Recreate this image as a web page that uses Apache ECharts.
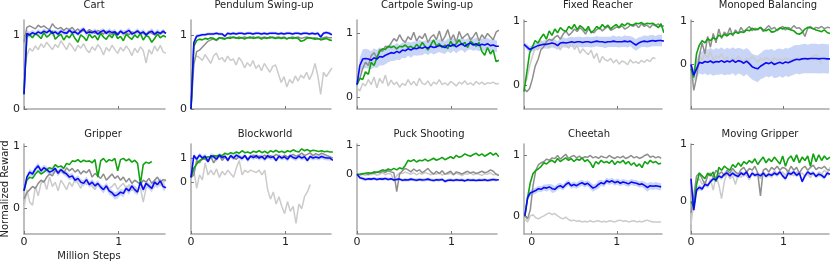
<!DOCTYPE html>
<html><head><meta charset="utf-8">
<script src="https://cdn.jsdelivr.net/npm/echarts@6/dist/echarts.min.js"></script>
<style>html,body{margin:0;padding:0;background:#fff}#c{width:831px;height:262px}</style>
</head><body><div id="c"></div><script>
const X = [0,0.03,0.06,0.09,0.12,0.15,0.18,0.21,0.24,0.27,0.3,0.33,0.36,0.39,0.42,0.45,0.48,0.51,0.54,0.57,0.6,0.63,0.66,0.69,0.72,0.75,0.78,0.81,0.84,0.87,0.9,0.93,0.96,0.99,1.02,1.05,1.08,1.11,1.14,1.17,1.2,1.23,1.26,1.29,1.32,1.35,1.38,1.41,1.44,1.47,1.5];
const X_CHEETAH = [-0.08,-0.048,-0.016,0.016,0.048,0.08,0.112,0.144,0.176,0.208,0.24,0.272,0.304,0.336,0.368,0.4,0.432,0.464,0.496,0.528,0.56,0.592,0.624,0.656,0.688,0.72,0.752,0.784,0.816,0.848,0.88,0.912,0.944,0.976,1.008,1.04,1.072,1.104,1.136,1.168,1.2,1.232,1.264,1.296,1.328,1.36,1.392,1.424,1.456,1.488,1.52];

const TITLES = ['Cart','Pendulum Swing-up','Cartpole Swing-up','Fixed Reacher','Monoped Balancing','Gripper','Blockworld','Puck Shooting','Cheetah','Moving Gripper'];
const Y_TICKS = [0, 1];
const X_TICKS = [0, 1];
const Y_MIN = [0,0,-0.18,-0.37,-1.03,-0.41,-2.14,-2.06,-0.3,-0.57];
const Y_MAX = [1.2,1.21,1.21,1.02,1.03,1.03,1.58,1.04,1.19,1.01];
const X_MIN = [0,0,0,0,0,0,0,0,-0.09,0];
const X_MAX = [1.49,1.49,1.48,1.48,1.49,1.49,1.48,1.48,1.53,1.49];

// ---- Cart
const cart_blue = [0.2,1.02,1.0,1.03,1.01,1.04,1.02,1.05,1.03,1.06,1.02,1.04,1.01,1.05,1.03,1.02,1.06,1.03,1.04,1.01,1.05,1.08,1.02,1.04,1.03,1.05,1.01,1.04,1.06,1.02,1.05,1.03,1.04,1.0,1.05,1.02,1.04,1.06,1.01,1.03,1.05,1.02,1.04,1.0,1.03,1.05,1.01,1.04,1.02,1.05,1.02];
const cart_green = [0.2,0.98,1.0,0.96,1.02,0.99,0.95,1.03,0.97,1.0,1.05,0.94,0.98,1.01,0.93,0.99,0.96,1.02,0.95,0.9,1.0,0.97,0.92,1.01,0.96,0.99,0.93,1.02,0.97,0.94,1.0,0.96,1.03,0.95,0.98,0.92,1.01,0.97,0.94,1.0,0.96,1.02,0.93,0.99,0.97,0.9,0.95,1.01,0.96,0.99,0.97];
const cart_dark = [0.9,1.1,1.12,1.1,1.08,1.13,1.1,1.12,1.09,1.07,1.15,1.1,1.08,1.1,1.06,1.09,1.07,1.1,1.05,1.08,1.04,1.06,1.03,1.07,1.05,1.02,1.06,1.04,1.01,1.05,1.03,1.0,1.04,1.02,1.05,1.01,1.03,1.0,1.04,1.02,1.06,1.01,1.03,1.0,1.05,1.02,1.0,1.03,1.01,1.04,1.02];
const cart_light = [0.5,0.72,0.82,0.78,0.85,0.8,0.88,0.83,0.9,0.85,0.8,0.87,0.83,0.92,0.86,0.8,0.89,0.84,0.78,0.86,0.82,0.88,0.8,0.76,0.84,0.79,0.87,0.82,0.73,0.83,0.78,0.86,0.8,0.75,0.83,0.78,0.85,0.8,0.72,0.82,0.76,0.84,0.79,0.62,0.8,0.74,0.85,0.78,0.86,0.77,0.75];
const cart_band = [0.1,0.05,0.04,0.04,0.03,0.04,0.03,0.04,0.03,0.03,0.04,0.03,0.04,0.03,0.03,0.04,0.03,0.04,0.03,0.03,0.04,0.03,0.04,0.03,0.03,0.04,0.03,0.04,0.03,0.03,0.04,0.03,0.04,0.03,0.03,0.04,0.03,0.04,0.03,0.03,0.04,0.03,0.04,0.03,0.03,0.04,0.03,0.04,0.03,0.03,0.04];
// ---- Pendulum Swing-up
const pend_blue = [0.0,0.9,0.99,1.0,1.01,1.01,1.02,1.02,1.02,1.03,1.02,1.02,0.99,1.03,1.02,1.03,1.02,1.03,1.03,1.02,1.03,1.03,1.02,1.03,1.03,1.02,1.03,1.02,1.03,1.03,1.03,1.02,1.03,1.02,1.03,1.03,1.02,1.03,1.03,1.02,1.03,1.03,1.02,1.03,1.02,1.03,0.98,1.03,1.04,1.03,1.01];
const pend_green = [0.0,0.85,0.93,0.95,0.94,0.96,0.95,0.97,0.96,0.94,0.97,0.96,0.95,0.97,0.96,0.98,0.97,0.96,0.97,0.95,0.97,0.98,0.96,0.97,0.97,0.95,0.97,0.96,0.98,0.97,0.96,0.97,0.96,0.97,0.95,0.97,0.96,0.97,0.96,0.92,0.93,0.96,0.97,0.96,0.95,0.96,0.94,0.95,0.96,0.94,0.93];
const pend_dark = [0.0,0.6,0.78,0.8,0.84,0.88,0.92,0.94,0.95,0.93,0.96,0.97,0.96,0.97,0.98,0.97,0.96,0.98,0.97,0.98,0.97,0.96,0.98,0.97,0.98,0.97,0.98,0.97,0.96,0.98,0.97,0.98,0.97,0.98,0.96,0.97,0.98,0.97,0.98,0.96,0.97,0.98,0.97,0.96,0.97,0.95,0.96,0.97,0.98,0.97,0.97];
const pend_light = [0.0,0.68,0.72,0.7,0.66,0.74,0.68,0.62,0.72,0.76,0.67,0.7,0.64,0.72,0.66,0.68,0.6,0.7,0.65,0.56,0.63,0.58,0.66,0.55,0.6,0.52,0.62,0.56,0.5,0.58,0.6,0.48,0.36,0.44,0.3,0.4,0.35,0.45,0.38,0.46,0.42,0.5,0.4,0.48,0.62,0.45,0.2,0.5,0.44,0.5,0.56];
const pend_band = [0.05,0.04,0.03,0.02,0.02,0.02,0.02,0.02,0.02,0.02,0.02,0.02,0.02,0.02,0.02,0.02,0.02,0.02,0.02,0.02,0.02,0.02,0.02,0.02,0.02,0.02,0.02,0.02,0.02,0.02,0.02,0.02,0.02,0.02,0.02,0.02,0.02,0.02,0.02,0.02,0.02,0.02,0.02,0.02,0.02,0.02,0.03,0.02,0.02,0.02,0.02];
// ---- Cartpole Swing-up
const cpole_blue = [0.2,0.5,0.6,0.61,0.6,0.58,0.62,0.6,0.64,0.63,0.66,0.68,0.7,0.69,0.72,0.7,0.74,0.73,0.76,0.74,0.77,0.76,0.78,0.77,0.79,0.77,0.8,0.78,0.79,0.81,0.8,0.78,0.82,0.8,0.83,0.79,0.82,0.84,0.8,0.83,0.85,0.82,0.84,0.81,0.83,0.82,0.84,0.81,0.82,0.8,0.8];
const cpole_green = [0.2,0.3,0.28,0.4,0.36,0.55,0.5,0.62,0.72,0.76,0.75,0.8,0.78,0.8,0.76,0.8,0.79,0.82,0.78,0.8,0.76,0.83,0.78,0.86,0.8,0.74,0.82,0.9,0.8,0.84,0.78,0.82,0.76,0.88,0.8,0.84,0.9,0.82,0.86,0.78,0.88,0.84,0.8,0.86,0.72,0.66,0.78,0.68,0.74,0.56,0.58];
const cpole_dark = [0.2,0.3,0.45,0.55,0.5,0.65,0.7,0.62,0.75,0.72,0.8,0.78,0.85,0.92,0.88,0.98,0.9,0.86,0.95,0.9,1.02,0.88,0.96,0.92,1.0,0.86,0.94,0.98,0.9,1.04,0.88,0.95,1.06,0.9,0.98,0.86,1.03,0.92,0.96,1.0,0.9,0.95,1.02,0.88,0.98,0.92,1.0,0.95,0.9,1.02,1.05];
const cpole_light = [0.15,0.1,0.22,0.18,0.28,0.2,0.32,0.15,0.3,0.22,0.35,0.18,0.27,0.2,0.24,0.16,0.22,0.19,0.28,0.2,0.25,0.18,0.3,0.22,0.2,0.26,0.18,0.24,0.21,0.28,0.2,0.23,0.19,0.25,0.22,0.18,0.24,0.21,0.26,0.2,0.23,0.19,0.25,0.21,0.24,0.2,0.23,0.22,0.24,0.21,0.22];
const cpole_band = [0.05,0.12,0.15,0.15,0.15,0.14,0.15,0.14,0.14,0.13,0.14,0.13,0.13,0.12,0.13,0.12,0.12,0.12,0.11,0.12,0.11,0.11,0.12,0.11,0.1,0.11,0.1,0.11,0.1,0.1,0.11,0.1,0.1,0.11,0.1,0.1,0.09,0.1,0.1,0.09,0.1,0.09,0.1,0.09,0.09,0.1,0.09,0.09,0.1,0.09,0.09];
// ---- Fixed Reacher
const reach_blue = [0.64,0.6,0.56,0.58,0.6,0.62,0.63,0.64,0.64,0.65,0.66,0.65,0.62,0.66,0.67,0.66,0.67,0.68,0.67,0.68,0.68,0.67,0.68,0.68,0.67,0.68,0.69,0.68,0.68,0.67,0.68,0.68,0.69,0.68,0.68,0.68,0.69,0.68,0.69,0.66,0.63,0.66,0.68,0.69,0.68,0.69,0.7,0.69,0.7,0.7,0.69];
const reach_green = [-0.1,0.2,0.5,0.6,0.7,0.66,0.74,0.8,0.72,0.85,0.78,0.88,0.82,0.9,0.86,0.84,0.92,0.88,0.95,0.87,0.93,0.9,0.85,0.92,0.82,0.86,0.92,0.88,0.95,0.9,0.94,0.88,0.92,0.95,0.9,0.96,0.93,0.97,0.95,0.94,0.97,0.96,0.98,0.95,0.97,0.96,0.97,0.94,0.9,0.96,0.82];
const reach_dark = [-0.05,-0.1,-0.05,0.1,0.3,0.4,0.55,0.6,0.68,0.72,0.7,0.75,0.78,0.72,0.8,0.85,0.78,0.82,0.88,0.84,0.9,0.86,0.8,0.88,0.84,0.82,0.87,0.9,0.85,0.89,0.92,0.86,0.88,0.91,0.9,0.93,0.88,0.9,0.94,0.92,0.95,0.9,0.96,0.92,0.94,0.9,0.95,0.93,0.96,0.92,0.93];
const reach_light = [0.0,0.1,0.3,0.45,0.6,0.55,0.7,0.6,0.65,0.58,0.68,0.6,0.64,0.55,0.66,0.62,0.58,0.68,0.56,0.62,0.5,0.57,0.52,0.48,0.55,0.42,0.5,0.35,0.45,0.4,0.38,0.42,0.35,0.4,0.33,0.38,0.36,0.32,0.4,0.35,0.37,0.34,0.39,0.36,0.4,0.37,0.43,0.42];
const reach_band = [0.03,0.05,0.05,0.05,0.06,0.06,0.06,0.06,0.07,0.07,0.07,0.07,0.07,0.07,0.08,0.07,0.08,0.08,0.08,0.08,0.08,0.08,0.08,0.08,0.08,0.08,0.08,0.08,0.08,0.09,0.08,0.08,0.09,0.08,0.09,0.08,0.09,0.09,0.08,0.09,0.09,0.09,0.08,0.09,0.09,0.09,0.09,0.08,0.09,0.09,0.09];
// ---- Monoped Balancing
const mono_blue = [0.0,-0.25,-0.1,0.05,0.03,0.07,0.05,0.08,0.04,0.07,0.06,0.09,0.05,0.08,0.06,0.1,0.05,0.09,0.07,0.03,0.08,0.02,-0.05,-0.08,-0.1,-0.04,0.0,0.04,0.02,0.05,0.0,0.03,0.05,0.02,0.06,0.04,0.07,0.1,0.12,0.11,0.13,0.14,0.13,0.14,0.14,0.14,0.13,0.14,0.14,0.13,0.13];
const mono_green = [-0.1,-0.3,0.25,0.45,0.55,0.5,0.6,0.55,0.62,0.58,0.68,0.64,0.7,0.66,0.72,0.7,0.75,0.72,0.76,0.74,0.8,0.78,0.84,0.8,0.82,0.86,0.8,0.78,0.82,0.75,0.76,0.8,0.85,0.82,0.86,0.82,0.8,0.78,0.72,0.7,0.74,0.82,0.86,0.85,0.83,0.8,0.78,0.76,0.8,0.74,0.72];
const mono_dark = [0.0,-0.6,-0.3,0.2,0.5,0.25,0.65,0.4,0.72,0.5,0.82,0.6,0.75,0.68,0.85,0.66,0.8,0.72,0.86,0.76,0.82,0.88,0.78,0.84,0.8,0.86,0.76,0.84,0.9,0.82,0.86,0.78,0.84,0.88,0.8,0.86,0.82,0.9,0.84,0.85,0.78,0.65,0.84,0.88,0.82,0.86,0.84,0.88,0.83,0.86,0.85];
const mono_light = [0.0,-0.3,0.0,0.2,0.1,0.25,0.15,0.3,0.1,0.2,0.15,0.25,0.1,0.18,0.05,0.15,0.1,0.2,0.12,0.08,0.15,0.1,0.18,0.12,0.06,0.14,0.1,0.16,0.12,0.08,0.15,0.1,0.13,0.09,0.15,0.12,0.1,0.14,0.11,0.16,0.12,0.14,0.1,0.15,0.2,0.22,0.18,0.0];
const mono_band = [0.05,0.15,0.2,0.25,0.27,0.28,0.3,0.3,0.3,0.31,0.3,0.31,0.3,0.31,0.3,0.3,0.31,0.3,0.3,0.31,0.3,0.31,0.3,0.3,0.31,0.3,0.32,0.31,0.32,0.31,0.32,0.33,0.32,0.33,0.32,0.33,0.33,0.34,0.33,0.34,0.34,0.34,0.33,0.34,0.34,0.34,0.34,0.34,0.34,0.34,0.34];
// ---- Gripper
const grip_blue = [0.28,0.5,0.58,0.55,0.63,0.68,0.6,0.65,0.62,0.58,0.6,0.64,0.56,0.62,0.58,0.55,0.5,0.52,0.45,0.48,0.42,0.4,0.46,0.38,0.42,0.36,0.4,0.34,0.3,0.36,0.28,0.25,0.2,0.22,0.26,0.24,0.32,0.28,0.36,0.3,0.26,0.42,0.3,0.4,0.36,0.32,0.42,0.38,0.44,0.35,0.33];
const grip_green = [0.28,0.45,0.5,0.48,0.55,0.6,0.55,0.58,0.62,0.65,0.63,0.7,0.66,0.68,0.64,0.72,0.7,0.76,0.75,0.78,0.74,0.77,0.75,0.76,0.73,0.78,0.5,0.76,0.8,0.74,0.78,0.76,0.8,0.6,0.78,0.8,0.76,0.79,0.74,0.77,0.72,0.39,0.7,0.74,0.72,0.75];
const grip_dark = [0.15,0.25,0.3,0.35,0.32,0.4,0.45,0.42,0.5,0.55,0.52,0.6,0.58,0.62,0.56,0.65,0.6,0.64,0.58,0.62,0.55,0.6,0.57,0.62,0.5,0.56,0.52,0.48,0.55,0.45,0.5,0.55,0.48,0.52,0.45,0.5,0.42,0.48,0.4,0.45,0.42,0.38,0.45,0.42,0.48,0.4,0.45,0.5,0.42,0.46,0.45];
const grip_light = [0.0,0.3,0.1,0.05,0.35,0.2,0.4,0.45,0.3,0.5,0.35,0.42,0.28,0.45,0.38,0.3,0.42,0.35,0.48,0.4,0.32,0.45,0.38,0.42,0.35,0.3,0.4,0.36,0.3,0.38,0.32,0.35,0.4,0.3,0.36,0.4,0.32,0.38,0.28,0.35,0.3,0.33,0.1,0.32,0.38,0.3,0.35,0.4,0.36,0.42,0.45];
const grip_band = [0.02,0.04,0.05,0.05,0.05,0.05,0.05,0.05,0.05,0.05,0.05,0.05,0.05,0.05,0.05,0.05,0.05,0.05,0.05,0.05,0.05,0.05,0.05,0.05,0.05,0.05,0.05,0.05,0.06,0.05,0.06,0.05,0.06,0.06,0.05,0.06,0.05,0.06,0.05,0.06,0.05,0.06,0.05,0.06,0.05,0.06,0.05,0.06,0.05,0.06,0.06];
// ---- Blockworld
const block_blue = [0.2,1.1,0.95,1.12,1.0,1.08,0.85,1.1,1.05,0.95,1.12,1.02,1.08,0.9,1.1,1.0,1.12,1.05,0.98,1.1,0.92,1.08,1.02,1.1,1.0,1.06,0.95,1.1,1.02,1.05,0.9,1.08,1.0,1.05,0.95,1.1,1.02,0.98,1.08,1.0,1.05,0.9,1.06,1.0,1.04,1.0,1.06,1.02,1.0,1.0,0.9];
const block_green = [0.2,0.58,0.75,0.9,0.95,1.0,1.05,1.02,1.1,1.08,1.12,1.1,1.2,1.15,1.22,1.18,1.25,1.2,1.3,1.22,1.25,1.2,1.28,1.24,1.3,1.22,1.28,1.2,1.3,1.25,1.32,1.24,1.28,1.22,1.3,1.26,1.34,1.28,1.25,1.38,1.3,1.35,1.28,1.32,1.3,1.27,1.3,1.26,1.28,1.25,1.25];
const block_dark = [0.2,0.3,0.9,0.8,1.0,0.95,0.85,1.05,0.8,1.0,1.1,0.9,1.05,0.95,1.1,1.0,0.95,1.08,1.0,1.1,0.95,1.05,1.12,1.0,1.08,1.05,1.12,1.0,1.1,1.05,1.15,1.08,1.0,1.12,1.05,1.1,1.15,1.08,1.12,1.2,1.1,1.15,1.22,1.1,1.18,1.12,1.2,1.15,1.1,1.05,1.0];
const block_light = [0.2,0.5,-0.25,0.3,0.1,0.8,0.3,0.5,0.3,0.55,0.2,0.45,0.3,0.5,0.35,0.2,0.6,0.9,0.3,0.5,0.4,0.5,0.45,0.4,0.5,0.3,0.5,-0.3,-0.7,-0.4,-0.9,-0.6,-1.0,-1.3,-0.8,-1.2,-1.0,-1.7,-0.9,-1.1,-0.6,-0.4,-0.1];
const block_band = [0.1,0.1,0.1,0.1,0.1,0.1,0.1,0.1,0.1,0.1,0.1,0.1,0.1,0.1,0.1,0.1,0.1,0.1,0.1,0.1,0.1,0.1,0.1,0.1,0.1,0.1,0.1,0.1,0.1,0.1,0.1,0.1,0.1,0.1,0.1,0.1,0.1,0.1,0.1,0.1,0.1,0.1,0.1,0.1,0.1,0.1,0.1,0.1,0.1,0.1,0.1];
// ---- Puck Shooting
const puck_blue = [0.0,-0.12,-0.15,-0.18,-0.16,-0.17,-0.15,-0.18,-0.16,-0.17,-0.15,-0.18,-0.16,-0.2,-0.18,-0.17,-0.21,-0.19,-0.2,-0.17,-0.19,-0.21,-0.18,-0.2,-0.19,-0.17,-0.2,-0.22,-0.19,-0.2,-0.18,-0.25,-0.21,-0.2,-0.22,-0.19,-0.21,-0.2,-0.23,-0.19,-0.21,-0.2,-0.22,-0.2,-0.21,-0.19,-0.22,-0.2,-0.18,-0.2,-0.19];
const puck_green = [0.0,0.0,0.02,0.03,0.05,0.03,0.08,0.06,0.1,0.15,0.12,0.18,0.14,0.2,0.15,0.22,0.18,0.3,0.48,0.44,0.5,0.42,0.48,0.46,0.52,0.45,0.5,0.55,0.48,0.52,0.58,0.5,0.55,0.6,0.54,0.65,0.58,0.62,0.7,0.65,0.62,0.68,0.72,0.64,0.7,0.62,0.68,0.74,0.66,0.72,0.6];
const puck_dark = [0.0,-0.02,0.0,0.03,-0.02,0.05,0.02,0.08,0.05,0.1,0.06,0.12,0.08,0.05,-0.6,0.0,0.12,0.2,0.15,0.08,0.18,0.1,0.15,0.05,0.12,0.2,0.08,0.0,0.1,0.02,0.12,0.0,0.05,0.1,-0.02,0.08,0.05,0.0,0.06,0.1,0.04,0.08,0.02,0.06,0.1,0.05,0.08,0.15,0.1,0.0,-0.05];
const puck_light = [0.0,-0.03,0.0,-0.05,0.02,-0.02,0.03,-0.04,0.0,0.05,-0.02,0.03,0.0,-0.2,-0.05,0.05,0.02,0.08,0.03,0.0,0.05,-0.02,0.04,0.0,0.06,0.02,-0.02,0.03,0.0,0.05,-0.03,0.02,0.0,0.04,-0.02,0.03,0.0,-0.05,0.02,0.0,0.05,-0.02,0.03,0.0,-0.04,0.02,0.0,0.05,-0.02,0.0,-0.02];
const puck_band = [0.02,0.05,0.06,0.06,0.05,0.06,0.05,0.06,0.05,0.06,0.05,0.06,0.05,0.06,0.05,0.06,0.05,0.06,0.05,0.06,0.05,0.06,0.05,0.06,0.05,0.06,0.05,0.06,0.05,0.06,0.05,0.06,0.05,0.06,0.05,0.06,0.05,0.06,0.05,0.06,0.05,0.06,0.05,0.06,0.05,0.06,0.05,0.06,0.05,0.06,0.05];
// ---- Cheetah
const cheet_blue = [0.0,0.3,0.38,0.4,0.42,0.45,0.44,0.47,0.46,0.48,0.45,0.44,0.48,0.5,0.47,0.52,0.55,0.5,0.52,0.5,0.53,0.55,0.52,0.54,0.5,0.46,0.48,0.52,0.55,0.53,0.58,0.56,0.58,0.55,0.57,0.54,0.56,0.55,0.53,0.56,0.55,0.54,0.52,0.53,0.5,0.47,0.5,0.49,0.5,0.49,0.48];
const cheet_green = [0.0,0.3,0.55,0.7,0.75,0.78,0.82,0.88,0.86,0.9,0.92,0.88,0.95,0.9,0.93,0.96,0.92,0.95,0.9,0.94,0.92,0.96,0.9,0.93,0.88,0.8,0.9,0.86,0.92,0.88,0.9,0.87,0.92,0.85,0.9,0.88,0.92,0.86,0.9,0.84,0.88,0.82,0.86,0.8,0.9,0.86,0.92,0.88,0.9,0.86,0.87];
const cheet_dark = [0.0,-0.05,0.1,0.5,0.75,0.85,0.88,0.9,0.94,0.92,0.96,0.95,1.0,0.94,0.98,1.02,0.95,0.98,1.0,0.96,0.99,0.95,0.98,0.97,1.0,0.96,0.98,0.95,0.99,0.97,0.96,1.0,0.97,0.95,0.98,0.96,0.99,0.95,0.97,1.0,0.96,0.98,0.95,0.97,1.0,1.02,0.97,0.99,0.96,0.98,0.95];
const cheet_light = [-0.05,-0.1,0.0,0.02,-0.03,-0.05,-0.02,0.0,0.03,0.05,0.02,0.04,0.0,-0.03,-0.05,-0.02,-0.06,-0.08,-0.07,-0.09,-0.08,-0.1,-0.09,-0.1,-0.08,-0.1,-0.09,-0.08,-0.1,-0.09,-0.1,-0.08,-0.09,-0.1,-0.08,-0.07,-0.09,-0.08,-0.1,-0.09,-0.08,-0.1,-0.09,-0.1,-0.08,-0.07,-0.09,-0.1,-0.1,-0.1,-0.1];
const cheet_band = [0.02,0.05,0.05,0.05,0.05,0.05,0.05,0.05,0.06,0.05,0.07,0.05,0.05,0.05,0.05,0.05,0.05,0.05,0.05,0.05,0.05,0.05,0.05,0.05,0.06,0.06,0.05,0.07,0.05,0.05,0.05,0.05,0.05,0.05,0.05,0.05,0.05,0.05,0.05,0.05,0.05,0.05,0.05,0.05,0.06,0.07,0.06,0.06,0.06,0.06,0.06];
// ---- Moving Gripper
const mgrip_blue = [0.4,-0.15,0.2,0.25,0.22,0.3,0.28,0.35,0.4,0.38,0.45,0.42,0.48,0.5,0.45,0.5,0.46,0.44,0.5,0.47,0.52,0.42,0.5,0.46,0.48,0.45,0.5,0.44,0.48,0.46,0.5,0.47,0.52,0.45,0.4,0.5,0.48,0.52,0.46,0.5,0.35,0.45,0.52,0.48,0.5,0.44,0.48,0.46,0.42,0.5,0.48];
const mgrip_green = [0.0,-0.1,0.3,0.5,0.45,0.4,0.5,0.45,0.52,0.35,0.6,0.55,0.62,0.58,0.55,0.65,0.6,0.68,0.62,0.7,0.66,0.72,0.68,0.75,0.65,0.72,0.78,0.68,0.75,0.7,0.78,0.72,0.66,0.8,0.62,0.75,0.8,0.7,0.82,0.68,0.78,0.72,0.8,0.62,0.84,0.7,0.82,0.72,0.8,0.74,0.78];
const mgrip_dark = [-0.2,0.1,0.45,0.5,0.4,0.3,0.45,0.5,0.42,0.55,0.48,0.52,0.45,0.55,0.5,0.58,0.52,0.48,0.56,0.6,0.52,0.58,0.55,0.62,0.5,0.1,0.55,0.58,0.52,0.6,0.56,0.62,0.55,0.6,0.58,0.52,0.62,0.55,0.6,0.5,0.58,0.62,0.55,0.6,0.64,0.56,0.6,0.58,0.62,0.56,0.55];
const mgrip_light = [-0.4,0.0,0.35,0.4,0.3,0.35,0.25,0.4,0.2,0.45,0.3,0.05,0.35,0.5,0.4,0.45,0.3,0.48,0.42,0.5,0.45,0.38,0.5,0.44,0.48,0.4,0.52,0.46,0.5,0.42,0.55,0.48,0.5,0.52,0.46,0.55,0.5,0.45,0.52,0.48,0.5,0.44,0.48,0.42,0.5,0.46,0.52,0.48,0.55,0.5,0.6];
const mgrip_band = [0.05,0.05,0.05,0.05,0.04,0.04,0.04,0.04,0.04,0.04,0.04,0.04,0.04,0.04,0.04,0.04,0.04,0.04,0.04,0.04,0.04,0.04,0.04,0.04,0.04,0.04,0.04,0.04,0.04,0.04,0.04,0.04,0.04,0.04,0.04,0.04,0.04,0.04,0.04,0.04,0.04,0.04,0.04,0.04,0.04,0.04,0.04,0.04,0.04,0.04,0.04];

const PANELS = [
  {x:X, blue:cart_blue, green:cart_green, dark:cart_dark, light:cart_light, band:cart_band},
  {x:X, blue:pend_blue, green:pend_green, dark:pend_dark, light:pend_light, band:pend_band},
  {x:X, blue:cpole_blue, green:cpole_green, dark:cpole_dark, light:cpole_light, band:cpole_band},
  {x:X, blue:reach_blue, green:reach_green, dark:reach_dark, light:reach_light, band:reach_band},
  {x:X, blue:mono_blue, green:mono_green, dark:mono_dark, light:mono_light, band:mono_band},
  {x:X, blue:grip_blue, green:grip_green, dark:grip_dark, light:grip_light, band:grip_band},
  {x:X, blue:block_blue, green:block_green, dark:block_dark, light:block_light, band:block_band},
  {x:X, blue:puck_blue, green:puck_green, dark:puck_dark, light:puck_light, band:puck_band},
  {x:X_CHEETAH, blue:cheet_blue, green:cheet_green, dark:cheet_dark, light:cheet_light, band:cheet_band},
  {x:X, blue:mgrip_blue, green:mgrip_green, dark:mgrip_dark, light:mgrip_light, band:mgrip_band}
];

// layout (pixels)
const COL_LEFT = [24,191,357,524,691];
const COL_W = [141,140,140,138,138];
const ROW_TOP = [20,144];
const ROW_H = [89,90];
const TITLE_X = [94,264,427,598,768,103,265,429,589,760];
const TITLE_Y = [5,134];

const FONT = 'DejaVu Sans, sans-serif';
const C_BLUE = '#0a0af5', C_GREEN = '#12a312', C_DARK = '#8e8e8e', C_LIGHT = '#cbcbcb';
const C_BAND = 'rgba(110,145,235,0.38)';

function pts(xs, ys) { return ys.map((v, i) => [xs[i], v]); }

const grid = [], xAxis = [], yAxis = [], series = [], graphic = [];
PANELS.forEach((p, i) => {
  const row = Math.floor(i / 5), col = i % 5;
  grid.push({left: COL_LEFT[col], top: ROW_TOP[row], width: COL_W[col], height: ROW_H[row], containLabel: false});
  const axisLine = {show: true, onZero: false, lineStyle: {color: '#a8a8a8', width: 1.5}};
  xAxis.push({type: 'value', gridIndex: i, min: X_MIN[i], max: X_MAX[i],
    axisLine, splitLine: {show: false},
    axisTick: {show: true, inside: true, length: 3, customValues: X_TICKS, lineStyle: {color: '#777', width: 1}},
    axisLabel: {show: row === 1, customValues: X_TICKS, fontSize: 11, color: '#222', fontFamily: FONT, margin: 3}});
  yAxis.push({type: 'value', gridIndex: i, min: Y_MIN[i], max: Y_MAX[i],
    axisLine, splitLine: {show: false},
    axisTick: {show: true, inside: true, length: 3, customValues: Y_TICKS, lineStyle: {color: '#777', width: 1}},
    axisLabel: {show: true, customValues: Y_TICKS, fontSize: 11, color: '#222', fontFamily: FONT, margin: 4}});
  const base = {type: 'line', xAxisIndex: i, yAxisIndex: i, showSymbol: false, symbol: 'none', animation: false, clip: true, silent: true};
  series.push(Object.assign({}, base, {data: pts(p.x, p.light), lineStyle: {color: C_LIGHT, width: 1.5}}));
  // blue band as polygon (custom series, mapped through api.coord)
  const bandData = p.blue.map((v, k) => [p.x[k], v - p.band[k], v + p.band[k]]);
  series.push({type: 'custom', xAxisIndex: i, yAxisIndex: i, silent: true, animation: false,
    data: bandData, encode: {x: 0, y: [1, 2]},
    renderItem: function (params, api) {
      if (params.dataIndex !== 0) return null;
      const up = bandData.map(d => api.coord([d[0], d[2]]));
      const lo = bandData.map(d => api.coord([d[0], d[1]])).reverse();
      const cs = params.coordSys;
      return {type: 'group', children: [{type: 'polygon', shape: {points: up.concat(lo)}, style: {fill: C_BAND}}],
        clipPath: {type: 'rect', shape: {x: cs.x, y: cs.y, width: cs.width, height: cs.height}}};
    }});
  series.push(Object.assign({}, base, {data: pts(p.x, p.dark), lineStyle: {color: C_DARK, width: 1.5}}));
  series.push(Object.assign({}, base, {data: pts(p.x, p.green), lineStyle: {color: C_GREEN, width: 1.6}}));
  series.push(Object.assign({}, base, {data: pts(p.x, p.blue), lineStyle: {color: C_BLUE, width: 1.6}}));
  graphic.push({type: 'text', x: TITLE_X[i], y: TITLE_Y[row], style: {text: TITLES[i], font: '10px ' + FONT, fill: '#222', align: 'center', verticalAlign: 'middle', textAlign: 'center', textVerticalAlign: 'middle'}});
});
graphic.push({type: 'text', x: 89, y: 256, style: {text: 'Million Steps', font: '10px ' + FONT, fill: '#222', align: 'center', verticalAlign: 'middle', textAlign: 'center', textVerticalAlign: 'middle'}});
graphic.push({type: 'text', x: 5, y: 189, rotation: Math.PI / 2, style: {text: 'Normalized Reward', font: '10px ' + FONT, fill: '#222', align: 'center', verticalAlign: 'middle', textAlign: 'center', textVerticalAlign: 'middle'}});

const chart = echarts.init(document.getElementById('c'), null, {renderer: 'canvas'});
chart.setOption({animation: false, backgroundColor: '#fff', grid, xAxis, yAxis, series, graphic});
</script></body></html>
